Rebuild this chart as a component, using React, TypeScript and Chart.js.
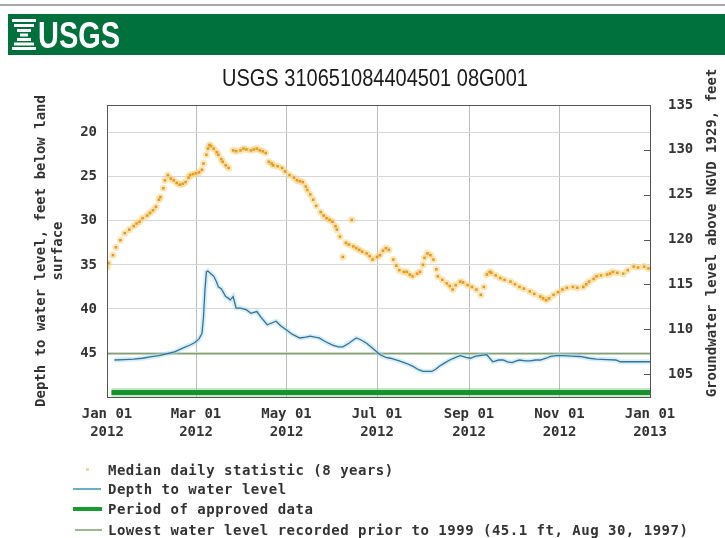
import React, { useEffect, useRef } from "react";
import { Chart, registerables } from "chart.js";

Chart.register(...registerables);

const MONO = "'DejaVu Sans Mono', 'Liberation Mono', monospace";
const NARROW = "'Liberation Sans Narrow', 'Liberation Sans', Arial, sans-serif";

// ---- axis ticks ----
const xTickDays = [0, 60, 121, 182, 244, 305, 366];
const xTickLabels = [
  ["Jan 01", "2012"],
  ["Mar 01", "2012"],
  ["May 01", "2012"],
  ["Jul 01", "2012"],
  ["Sep 01", "2012"],
  ["Nov 01", "2012"],
  ["Jan 01", "2013"],
];
const depthTicks = [20, 25, 30, 35, 40, 45];
const levelTicks = [105, 110, 115, 120, 125, 130, 135];

// ---- depth to water level (day of year 2012, feet below land surface) ----
const depthDays = [
  5, 12, 18, 24, 29, 35, 40, 46, 51, 56, 59, 62, 64, 65, 66, 67, 68, 70, 72, 74,
  75, 77, 80, 82, 83, 85, 87, 90, 94, 97, 99, 101, 104, 108, 111, 114, 117, 121, 125, 130,
  134, 137, 140, 143, 147, 152, 156, 159, 163, 168, 171, 175, 180, 184, 188, 191, 197, 202, 206, 210,
  213, 219, 222, 224, 228, 231, 235, 238, 242, 245, 248, 251, 256, 260, 264, 267, 270, 273, 276, 278,
  282, 285, 289, 292, 296, 299, 303, 307, 313, 319, 325, 330, 337, 343, 346, 352, 358, 364, 366,
];
const depthValues = [
  45.8, 45.75, 45.7, 45.6, 45.45, 45.3, 45.1, 44.85, 44.45, 44.1, 43.85, 43.4, 42.8, 41.0, 37.9, 35.8, 35.7, 36.0, 36.3, 37.0,
  37.5, 37.7, 38.6, 38.8, 39.0, 38.6, 39.9, 39.9, 40.1, 40.5, 40.4, 40.3, 41.0, 41.8, 41.6, 41.4, 41.9, 42.4, 42.9, 43.3,
  43.2, 43.1, 43.2, 43.3, 43.7, 44.1, 44.3, 44.3, 43.9, 43.3, 43.5, 43.9, 44.6, 45.2, 45.5, 45.6, 45.9, 46.2, 46.5, 46.9,
  47.1, 47.1, 46.8, 46.5, 46.1, 45.8, 45.5, 45.3, 45.5, 45.6, 45.4, 45.3, 45.2, 46.0, 45.8, 45.8, 46.0, 46.1, 45.9, 45.8,
  45.9, 45.9, 45.8, 45.8, 45.6, 45.4, 45.3, 45.3, 45.35, 45.4, 45.6, 45.7, 45.75, 45.8, 46.0, 46.0, 46.0, 46.0, 46.0,
];

// ---- median daily statistic (8 years) ----
const medianDays = [
  0, 1, 4, 6, 9, 12, 15, 18, 20, 22, 24, 27, 29, 31, 33, 35, 36, 38, 39, 41,
  43, 45, 47, 49, 51, 53, 55, 56, 58, 60, 62, 64, 65, 67, 68, 69, 70, 72, 74, 75,
  77, 78, 80, 82, 85, 87, 90, 92, 94, 97, 99, 101, 103, 105, 107, 109, 111, 112, 115, 118,
  120, 123, 126, 128, 130, 132, 134, 135, 137, 139, 141, 144, 146, 148, 150, 152, 154, 155, 157, 159,
  161, 163, 165, 166, 168, 170, 172, 175, 177, 179, 182, 184, 186, 188, 190, 193, 195, 197, 200, 202,
  204, 206, 209, 211, 213, 214, 216, 218, 220, 222, 223, 226, 229, 231, 233, 235, 238, 240, 243, 246,
  249, 252, 254, 256, 258, 259, 262, 265, 268, 272, 275, 278, 281, 285, 288, 292, 294, 296, 298, 301,
  304, 307, 310, 314, 317, 321, 323, 325, 328, 330, 333, 337, 339, 341, 344, 348, 351, 355, 358, 362, 365,
];
const medianValues = [
  35.3, 34.8, 33.9, 33.0, 32.2, 31.4, 31.0, 30.6, 30.3, 30.1, 29.7, 29.4, 29.1, 28.8, 28.4, 27.6, 27.3, 26.3, 25.4, 24.8,
  25.2, 25.4, 25.7, 25.9, 25.8, 25.6, 25.1, 24.8, 24.7, 24.6, 24.5, 24.2, 23.5, 22.5, 21.8, 21.4, 21.5, 21.8, 22.2, 22.5,
  23.0, 23.3, 23.7, 24.0, 22.0, 22.1, 22.0, 21.8, 21.9, 22.0, 21.9, 21.8, 22.0, 22.1, 22.3, 23.3, 23.5, 23.7, 23.8, 24.0,
  24.4, 24.8, 25.1, 25.4, 25.5, 25.6, 26.1, 26.5, 27.0, 27.6, 28.3, 29.0, 29.4, 29.7, 29.9, 30.1, 30.6, 31.0, 31.8, 34.1,
  32.5, 32.7, 29.9, 32.9, 33.1, 33.3, 33.5, 33.7, 34.0, 34.4, 34.1, 33.9, 33.4, 33.1, 33.3, 34.4, 35.1, 35.6, 35.8, 35.8,
  36.1, 36.3, 36.0, 35.8, 35.0, 34.2, 33.7, 33.9, 34.4, 35.5, 36.3, 36.7, 37.1, 37.4, 37.8, 37.3, 36.9, 37.0, 37.3, 37.5,
  37.8, 38.4, 37.5, 36.1, 35.8, 35.9, 36.2, 36.5, 36.7, 36.9, 37.2, 37.5, 37.7, 38.0, 38.3, 38.6, 38.8, 39.0, 38.8, 38.4,
  38.1, 37.8, 37.6, 37.5, 37.6, 37.5, 37.2, 36.9, 36.6, 36.3, 36.2, 36.1, 36.0, 35.8, 35.9, 36.0, 35.6, 35.2, 35.3, 35.2, 35.4,
];

// ---- period of approved data / lowest recorded level ----
const approvedDays = [3, 366];
const approvedDepth = [49.5, 49.5];
const lowestDays = [0, 366];
const lowestDepth = [45.1, 45.1];

const toXY = (xs: number[], ys: number[]) => xs.map((x, i) => ({ x, y: ys[i] }));

const decorPlugin = {
  id: "decor",
  afterDraw(chart: any) {
    const { ctx, chartArea } = chart;
    const { left, right, top, bottom } = chartArea;
    ctx.save();
    ctx.strokeStyle = "#555";
    ctx.lineWidth = 1;
    ctx.strokeRect(Math.round(left) + 0.5, Math.round(top) + 0.5, Math.round(right - left), Math.round(bottom - top));
    const y1 = chart.scales.y1;
    levelTicks.forEach((v) => {
      const py = Math.round(y1.getPixelForValue(v)) + 0.5;
      if (py > top + 2 && py < bottom - 2) {
        ctx.beginPath();
        ctx.moveTo(right - 6, py);
        ctx.lineTo(right, py);
        ctx.stroke();
      }
    });
    ctx.translate(712, (top + bottom) / 2 - 18);
    ctx.rotate(-Math.PI / 2);
    ctx.fillStyle = "#333";
    ctx.font = `bold 14px ${MONO}`;
    ctx.textAlign = "center";
    ctx.textBaseline = "middle";
    ctx.fillText("Groundwater level above NGVD 1929, feet", 0, 0);
    ctx.restore();
  },
};

export default function App() {
  const canvasRef = useRef<HTMLCanvasElement | null>(null);

  useEffect(() => {
    if (!canvasRef.current) return;
    const tickFont = { family: MONO, size: 14, weight: "bold" as const, lineHeight: 1.3 };
    const chart = new Chart(canvasRef.current, {
      type: "line",
      data: {
        datasets: [
          {
            label: "Median daily statistic (8 years)",
            data: toXY(medianDays, medianValues),
            showLine: false,
            pointStyle: "rect",
            pointRadius: 1.8,
            backgroundColor: "#e09a28",
            borderColor: "#e09a28",
            borderWidth: 0,
            yAxisID: "y",
          },
          {
            label: "median halo",
            data: toXY(medianDays, medianValues),
            showLine: false,
            pointStyle: "circle",
            pointRadius: 3.6,
            backgroundColor: "rgba(246,212,130,0.55)",
            borderWidth: 0,
            yAxisID: "y",
          },
          {
            label: "Depth to water level",
            data: toXY(depthDays, depthValues),
            borderColor: "#3a7096",
            borderWidth: 1.3,
            pointRadius: 0,
            yAxisID: "y",
          },
          {
            label: "halo",
            data: toXY(depthDays, depthValues),
            borderColor: "rgba(160,220,238,0.45)",
            borderWidth: 5,
            pointRadius: 0,
            yAxisID: "y",
          },
          {
            label: "Lowest water level recorded prior to 1999",
            data: toXY(lowestDays, lowestDepth),
            borderColor: "#7ea46c",
            borderWidth: 1.5,
            pointRadius: 0,
            yAxisID: "y",
          },
          {
            label: "Period of approved data",
            data: toXY(approvedDays, approvedDepth),
            borderColor: "#15922b",
            borderWidth: 5,
            pointRadius: 0,
            yAxisID: "y",
          },
          {
            label: "approved halo",
            data: toXY(approvedDays, approvedDepth),
            borderColor: "rgba(140,205,140,0.5)",
            borderWidth: 9,
            pointRadius: 0,
            yAxisID: "y",
          },
        ],
      },
      options: {
        responsive: false,
        animation: false,
        layout: { padding: { top: 105, bottom: 97, left: 0, right: 0 } },
        plugins: {
          legend: { display: false },
          tooltip: { enabled: false },
        },
        scales: {
          x: {
            type: "linear",
            min: 0,
            max: 366,
            afterBuildTicks: (s: any) => {
              s.ticks = xTickDays.map((v) => ({ value: v }));
            },
            afterFit: (s: any) => {
              s.height = 44;
            },
            grid: { color: "#bcbcbc", drawTicks: false },
            border: { display: false },
            ticks: {
              autoSkip: false,
              maxRotation: 0,
              padding: 8,
              color: "#333",
              font: tickFont,
              callback: (_v: any, i: number) => xTickLabels[i],
            },
          },
          y: {
            type: "linear",
            position: "left",
            reverse: true,
            min: 16.85,
            max: 50.0,
            afterBuildTicks: (s: any) => {
              s.ticks = depthTicks.map((v) => ({ value: v }));
            },
            afterFit: (s: any) => {
              s.width = 107;
            },
            grid: { color: "#d6d6d6", drawTicks: false },
            border: { display: false },
            ticks: { padding: 10, color: "#333", font: tickFont },
            title: {
              display: true,
              text: ["Depth to water level, feet below land", "surface"],
              color: "#333",
              font: { family: MONO, size: 14, weight: "bold", lineHeight: 1.2 },
              padding: { top: 33, bottom: 0 },
            },
          },
          y1: {
            type: "linear",
            position: "right",
            min: 102.44,
            max: 135,
            afterBuildTicks: (s: any) => {
              s.ticks = levelTicks.map((v) => ({ value: v }));
            },
            afterFit: (s: any) => {
              s.width = 75;
            },
            grid: { display: false, drawTicks: false },
            border: { display: false },
            ticks: { padding: 18, color: "#333", font: tickFont },
          },
        },
      },
      plugins: [decorPlugin],
    } as any);
    return () => chart.destroy();
  }, []);

  const legendText: React.CSSProperties = {
    position: "absolute",
    left: 108,
    height: 18,
    lineHeight: "18px",
    fontFamily: MONO,
    fontWeight: "bold",
    fontSize: 14,
    letterSpacing: "0.5px",
    color: "#333",
    whiteSpace: "nowrap",
  };

  return (
    <div style={{ position: "absolute", left: 0, top: 0, width: 725, height: 538, background: "#fff", overflow: "hidden" }}>
      <canvas ref={canvasRef} width={725} height={538} style={{ position: "absolute", left: 0, top: 0 }} />
      <svg width={725} height={100} style={{ position: "absolute", left: 0, top: 0 }}>
        <rect x={0} y={4} width={725} height={2} fill="#a8a8a8" />
        <rect x={8} y={14} width={717} height={41} fill="#00703c" />
        <g fill="#ffffff">
          <rect x={12} y={19} width={24} height={3} />
          <rect x={14} y={24} width={20} height={3} />
          <rect x={17} y={29} width={14} height={3} />
          <rect x={20} y={33.5} width={8} height={3} />
          <rect x={17} y={38} width={14} height={3} />
          <rect x={14} y={42.5} width={20} height={3} />
          <rect x={12} y={47} width={24} height={3} />
        </g>
        <text
          x={38}
          y={48}
          fill="#ffffff"
          fontFamily={NARROW}
          fontWeight="bold"
          fontSize={36}
          textLength={82}
          lengthAdjust="spacingAndGlyphs"
        >
          USGS
        </text>
        <text
          x={222}
          y={86}
          fill="#1a1a1a"
          fontFamily={NARROW}
          fontSize={24}
          textLength={306}
          lengthAdjust="spacingAndGlyphs"
        >
          USGS 310651084404501 08G001
        </text>
      </svg>
      <div style={{ position: "absolute", left: 86, top: 468, width: 3, height: 3, background: "#e6d9a8" }} />
      <div style={{ ...legendText, top: 461 }}>Median daily statistic (8 years)</div>
      <div style={{ position: "absolute", left: 73, top: 488, width: 28, height: 2, background: "#6aaecb" }} />
      <div style={{ ...legendText, top: 480 }}>Depth to water level</div>
      <div style={{ position: "absolute", left: 73, top: 507, width: 29, height: 4, background: "#1a9a2e" }} />
      <div style={{ ...legendText, top: 500 }}>Period of approved data</div>
      <div style={{ position: "absolute", left: 75, top: 529, width: 27, height: 2, background: "#9ab890" }} />
      <div style={{ ...legendText, top: 521 }}>Lowest water level recorded prior to 1999 (45.1 ft, Aug 30, 1997)</div>
    </div>
  );
}
